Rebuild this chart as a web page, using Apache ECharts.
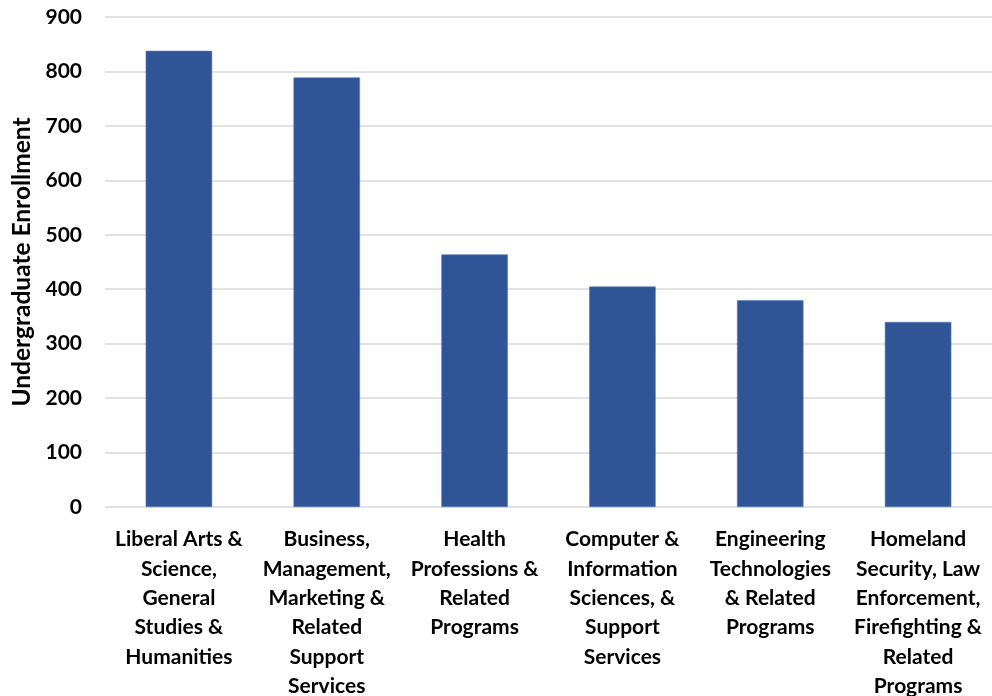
<!DOCTYPE html>
<html>
<head>
<meta charset="utf-8">
<script src="https://cdn.jsdelivr.net/npm/echarts@6/dist/echarts.min.js"></script>
<style>
  html, body { margin: 0; padding: 0; background: #fff; }
  #chart { width: 992px; height: 696px; }
</style>
</head>
<body>
<div id="chart"></div>
<script>
// Program areas (line breaks follow the wrapped axis labels)
const categories = [
  'Liberal Arts &\nScience,\nGeneral\nStudies &\nHumanities',
  'Business,\nManagement,\nMarketing &\nRelated\nSupport\nServices',
  'Health\nProfessions &\nRelated\nPrograms',
  'Computer &\nInformation\nSciences, &\nSupport\nServices',
  'Engineering\nTechnologies\n& Related\nPrograms',
  'Homeland\nSecurity, Law\nEnforcement,\nFirefighting &\nRelated\nPrograms'
];
const enrollment = [838, 789, 464, 405, 380, 340];
const yTicks = { min: 0, max: 900, step: 100 };

const FONT = 'Lato, "Open Sans", sans-serif';

const chart = echarts.init(document.getElementById('chart'), null, { renderer: 'canvas' });
chart.setOption({
  animation: false,
  grid: {
    left: 105, right: 0, top: 17, bottom: 189,
    containLabel: false,
    outerBoundsMode: 'none'
  },
  xAxis: {
    type: 'category',
    data: categories,
    axisLine: { show: false },
    axisTick: { show: false },
    axisLabel: {
      interval: 0,
      margin: 18,
      color: '#000',
      fontFamily: FONT,
      fontWeight: 'bold',
      fontSize: 21,
      lineHeight: 29.3,
      align: 'center'
    }
  },
  yAxis: {
    type: 'value',
    min: yTicks.min,
    max: yTicks.max,
    interval: yTicks.step,
    name: 'Undergraduate Enrollment',
    nameLocation: 'middle',
    nameGap: 66,
    nameRotate: 90,
    nameTextStyle: { color: '#000', fontFamily: FONT, fontWeight: 'bold', fontSize: 24.5 },
    axisLine: { show: false },
    axisTick: { show: false },
    axisLabel: {
      margin: 23,
      color: '#000',
      fontFamily: FONT,
      fontWeight: 'bold',
      fontSize: 21
    },
    splitLine: { lineStyle: { color: '#d9d9d9', width: 1.5 } }
  },
  series: [{
    type: 'bar',
    data: enrollment,
    barCategoryGap: '55%',
    itemStyle: { color: '#2f5597', borderColor: '#5b7db8', borderWidth: 0.6 }
  }]
});
</script>
</body>
</html>
